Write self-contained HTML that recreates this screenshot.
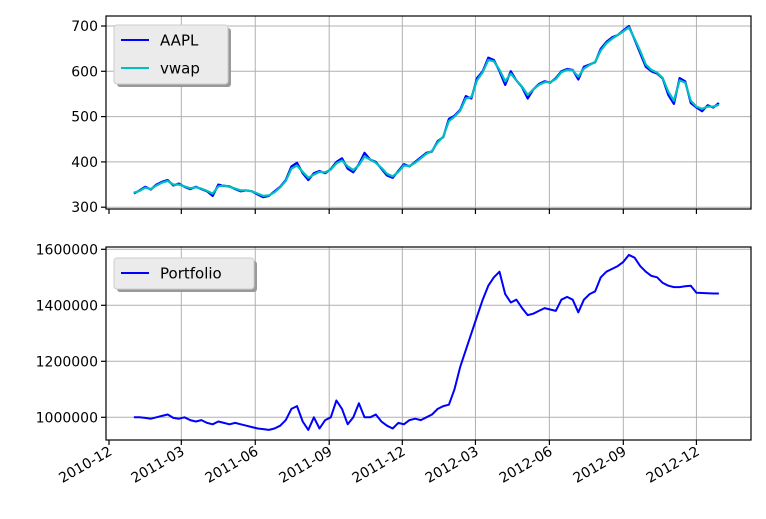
<!DOCTYPE html>
<html><head><meta charset="utf-8"><style>
html,body{margin:0;padding:0;background:#fff;}
svg{display:block;font-family:"DejaVu Sans","Liberation Sans",sans-serif;}
</style></head><body>
<svg id="chart" width="766" height="519" viewBox="0 0 766 519" xmlns="http://www.w3.org/2000/svg"></svg>
<script>
const xTickLabels = ["2010-12","2011-03","2011-06","2011-09","2011-12","2012-03","2012-06","2012-09","2012-12"];
const xTickDays = [0,90,182,274,365,456,548,640,731];
const topYTicks = [300,400,500,600,700];
const bottomYTicks = [1000000,1200000,1400000,1600000];
const firstDay = 31;
const stepDays = 7;
const aapl = [330,337,345,339, 350,356,360,348, 352,345,340,345, 340,335,325,350,347, 346,340,335,337, 335,328,322,325, 335,345,360,390,398, 375,360,375,380, 375,384,400,408,385, 377,395,420,405, 400,385,370,365, 380,395,390,400,
 410,420,423,446, 455,495,502,515, 545,540,585,600, 630,625,600,570,600, 580,565,540,560, 572,578,575,585, 600,605,603,582,610, 615,620,650,665, 675,680,690,700, 670,640,610,600,595, 584,548,528,585, 578,530,520,512,525, 520,530];
const vwap = [332,336,343,340, 348,354,358,350, 350,346,342,344, 341,336,330,346,348, 345,341,337,337, 335,330,325,326, 333,344,358,385,392, 378,365,372,378, 377,383,397,403,390, 382,393,412,405, 398,387,374,368, 378,392,391,398,
 408,418,424,443, 456,490,500,513, 540,543,580,598, 625,622,603,578,595, 580,566,548,560, 570,576,576,583, 598,603,602,588,606, 614,621,646,662, 672,680,688,697, 672,645,615,603,597, 585,555,535,580, 575,535,522,517,522, 522,526];
const portfolio = [1000,1000,998,995, 1000,1005,1010,998, 995,1000,990,985, 990,980,975,985,980, 975,980,975,970, 965,960,958,955, 960,970,990,1030,1040, 985,955,1000,960, 990,1000,1060,1030,975, 1000,1050,1000,1000, 1010,985,970,960, 980,975,990,995,
 990,1000,1010,1030, 1040,1045,1100,1180, 1240,1300,1360,1420, 1470,1500,1520,1440,1410, 1420,1390,1365,1370, 1380,1390,1385,1380, 1420,1430,1420,1375,1420, 1440,1450,1500,1520, 1530,1540,1555,1580, 1570,1540,1520,1505,1500, 1480,1470,1465,1465, 1468,1470,1445,1444,1443, 1442,1442].map(v=>v*1000);

const NS="http://www.w3.org/2000/svg";
const svg=document.getElementById('chart');
function el(tag,attrs,parent){const e=document.createElementNS(NS,tag);for(const k in attrs)e.setAttribute(k,attrs[k]);(parent||svg).appendChild(e);return e;}
const L=106,R=751;
function xScale(day){return 109+day*0.8036;}
const panels=[
 {top:16,bot:209,y:v=>26+(700-v)*0.453,ticks:topYTicks,name:'price'},
 {top:247,bot:440,y:v=>249.3+(1600000-v)/200000*56,ticks:bottomYTicks,name:'portfolio'}
];
panels.forEach((p,pi)=>{
 const g=el('g',{});
 
 
 xTickDays.forEach((d,i)=>{
  const x=xScale(d);
  if(i>0){const gl=el('line',{x1:x,x2:x,y1:p.top,y2:p.bot,stroke:'#b0b0b0','stroke-width':1},g);
   }
  const t=el('line',{x1:x,x2:x,y1:p.bot,y2:p.bot+5,stroke:'#000','stroke-width':1.2},g);
  
  if(pi===1){
   const tx=el('text',{x:x+4,y:p.bot+14,'font-size':14,'text-anchor':'end',transform:`rotate(-30 ${x+4} ${p.bot+14})`},g);
   tx.textContent=xTickLabels[i];
   
  }
 });
 p.ticks.forEach(v=>{
  const y=p.y(v);
  const gl=el('line',{x1:L,x2:R,y1:y,y2:y,stroke:'#b0b0b0','stroke-width':1},g);
  
  const t=el('line',{x1:L-5,x2:L,y1:y,y2:y,stroke:'#000','stroke-width':1.2},g);
  
  const tx=el('text',{x:L-8,y:y+5,'font-size':14,'text-anchor':'end'},g);
  tx.textContent=String(v);
  
 });
});
function line(arr,p,color,name,w){
 const pts=arr.map((v,i)=>xScale(firstDay+i*stepDays).toFixed(1)+','+p.y(v).toFixed(1)).join(' ');
 const l=el('polyline',{points:pts,fill:'none',stroke:color,'stroke-width':w,'stroke-linejoin':'round'});
 
 
}
line(aapl,panels[0],'#0000ff','aapl-line',2.2);
line(vwap,panels[0],'#00bfbf','vwap-line',2.2);
line(portfolio,panels[1],'#0000ff','portfolio-line',2);
panels.forEach(p=>{
 const f=el('rect',{x:L,y:p.top,width:R-L,height:p.bot-p.top,fill:'none',stroke:'#000','stroke-width':1.2});
 
});
function legend(x,y,w,h,entries,name){
 const g=el('g',{});
 
 
 el('rect',{x:x+3,y:y+3,width:w,height:h,rx:3,fill:'#999'},g);
 el('rect',{x:x,y:y,width:w,height:h,rx:3,fill:'#ebebeb',stroke:'#ccc'},g);
 entries.forEach((e,i)=>{
  const cy=y+15+i*28;
  const ln=el('line',{x1:x+7,x2:x+35,y1:cy,y2:cy,stroke:e.c,'stroke-width':2},g);
  
  const t=el('text',{x:x+46,y:cy+5.5,'font-size':15},g);
  t.textContent=e.t;
  
 });
}
legend(114,25,114,59,[{t:'AAPL',c:'#0000ff'},{t:'vwap',c:'#00bfbf'}],'price-legend');
legend(114,258,140,31,[{t:'Portfolio',c:'#0000ff'}],'portfolio-legend');
</script>
</body></html>
